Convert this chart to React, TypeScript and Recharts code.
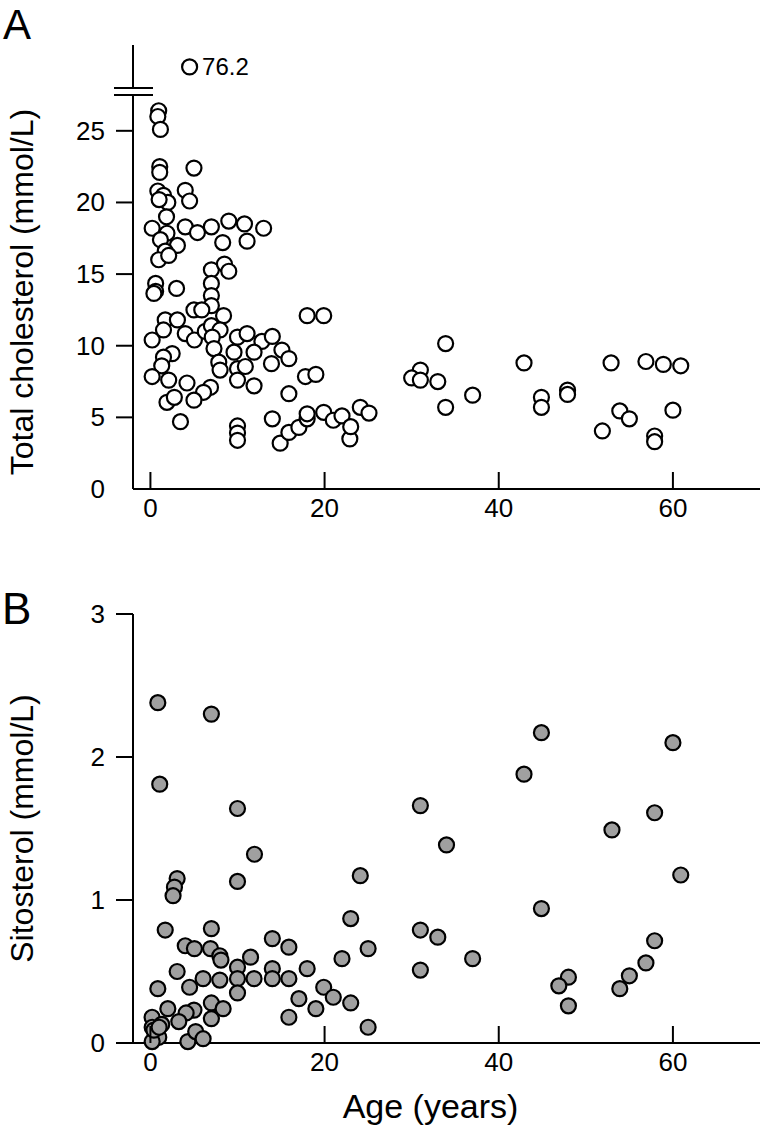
import { ScatterChart, Scatter, XAxis, YAxis, LabelList } from "recharts";

// Panel A: total cholesterol by age
const cholAges = [
  0.95, 0.85, 1.15, 1.07, 1.07, 5.0, 0.85, 1.5, 4.0, 2.0, 4.5, 1.0, 1.85, 0.2, 1.9, 4.0, 5.4, 7.0, 9.0, 10.8,
  13.0, 8.3, 11.1, 1.15, 3.1, 1.7, 0.95, 7.0, 8.5, 9.0, 2.1, 0.6, 0.6, 0.4, 3.0, 7.0, 7.0, 7.0, 5.0, 5.9,
  8.4, 18.0, 19.9, 1.7, 3.1, 0.2, 1.5, 4.0, 5.05, 6.3, 7.0, 8.0, 7.1, 7.3, 10.0, 11.1, 12.8, 14.0, 9.6, 11.9,
  15.1, 15.9, 13.9, 2.5, 1.5, 1.3, 0.2, 2.1, 4.2, 7.85, 8.0, 10.0, 10.9, 10.0, 11.9, 6.9, 6.1, 5.0, 1.9, 2.75,
  3.45, 17.8, 19.0, 15.9, 14.0, 10.0, 10.0, 10.0, 14.9, 15.9, 17.05, 18.0, 18.0, 19.9, 21.0, 22.0, 22.9, 23.0, 24.1, 25.1,
  33.9, 31.0, 30.0, 31.0, 33.0, 37.0, 33.9, 42.9, 44.9, 44.9, 47.9, 47.9, 52.9, 56.9, 58.9, 60.9, 53.9, 55.0, 51.9, 60.0,
  57.9, 57.9,
];
const cholValues = [
  26.4, 26.0, 25.1, 22.5, 22.1, 22.4, 20.8, 20.5, 20.85, 20.0, 20.1, 20.2, 19.0, 18.2, 17.85, 18.3, 17.9, 18.3, 18.7, 18.5,
  18.2, 17.2, 17.3, 17.4, 17.0, 16.6, 16.0, 15.3, 15.7, 15.2, 16.3, 14.35, 13.8, 13.65, 14.0, 14.35, 13.5, 12.8, 12.5, 12.5,
  12.1, 12.1, 12.1, 11.8, 11.8, 10.4, 11.1, 10.85, 10.4, 11.0, 11.4, 11.1, 10.6, 9.8, 10.6, 10.85, 10.3, 10.65, 9.55, 9.55,
  9.7, 9.1, 8.75, 9.45, 9.2, 8.6, 7.85, 7.6, 7.4, 8.85, 8.3, 8.4, 8.55, 7.6, 7.2, 7.1, 6.75, 6.2, 6.05, 6.4,
  4.7, 7.85, 8.0, 6.65, 4.9, 4.4, 3.9, 3.4, 3.2, 3.95, 4.3, 4.9, 5.25, 5.35, 4.8, 5.1, 3.5, 4.35, 5.7, 5.3,
  10.15, 8.3, 7.75, 7.6, 7.5, 6.55, 5.7, 8.8, 6.4, 5.7, 6.9, 6.6, 8.8, 8.9, 8.7, 8.6, 5.45, 4.9, 4.05, 5.5,
  3.7, 3.3,
];
// value plotted above the axis break
const cholOutlierAge = 4.5;
const cholOutlierValue = 76.2;

// Panel B: sitosterol by age
const sitoAges = [
  0.85, 7.0, 1.07, 10.0, 11.95, 3.07, 2.76, 2.6, 10.0, 24.1, 23.0, 1.7, 7.0, 4.0, 5.05, 6.9, 7.97, 8.1, 11.5, 14.0,
  15.9, 25.0, 22.0, 10.0, 10.0, 10.0, 14.0, 14.0, 11.9, 15.9, 18.0, 7.97, 6.05, 4.5, 3.07, 0.85, 19.9, 21.0, 23.0, 17.05,
  19.0, 15.9, 25.0, 7.0, 7.0, 8.35, 5.0, 4.1, 3.26, 2.0, 0.19, 1.3, 0.96, 0.2, 0.2, 4.3, 5.2, 6.05, 0.4, 1.0,
  31.0, 34.0, 31.0, 33.0, 37.0, 31.0, 42.9, 44.9, 44.9, 53.0, 57.9, 60.0, 60.9, 57.9, 56.9, 55.0, 53.9, 48.0, 46.9, 48.0,
];
const sitoValues = [
  2.38, 2.3, 1.81, 1.64, 1.32, 1.15, 1.09, 1.03, 1.13, 1.17, 0.87, 0.79, 0.8, 0.68, 0.66, 0.66, 0.61, 0.58, 0.6, 0.73,
  0.67, 0.66, 0.59, 0.53, 0.45, 0.35, 0.52, 0.45, 0.45, 0.45, 0.52, 0.44, 0.45, 0.39, 0.5, 0.38, 0.39, 0.32, 0.28, 0.31,
  0.24, 0.18, 0.11, 0.28, 0.17, 0.24, 0.23, 0.21, 0.15, 0.24, 0.18, 0.13, 0.04, 0.11, 0.01, 0.01, 0.08, 0.03, 0.09, 0.11,
  1.66, 1.385, 0.79, 0.74, 0.59, 0.51, 1.88, 2.17, 0.94, 1.49, 1.61, 2.1, 1.175, 0.715, 0.56, 0.47, 0.38, 0.46, 0.4, 0.26,
];

const ageTicks = [0, 20, 40, 60];
const cholTicks = [0, 5, 10, 15, 20, 25];
const sitoTicks = [0, 1, 2, 3];

const cholData = cholAges.map((age, i) => ({ age, value: cholValues[i] }));
const outlierData = [{ age: cholOutlierAge, value: cholOutlierValue }];
const sitoData = sitoAges.map((age, i) => ({ age, value: sitoValues[i] }));

const FONT = "'Liberation Sans', Arial, sans-serif";
const AXIS = { stroke: "#000", strokeWidth: 2 };

const OpenDot = (p: any) => <circle cx={p.cx} cy={p.cy} r={7.5} fill="#fff" stroke="#000" strokeWidth={2.2} />;
const GrayDot = (p: any) => <circle cx={p.cx} cy={p.cy} r={7.5} fill="#a0a0a0" stroke="#000" strokeWidth={2.2} />;

// x ticks point up into the plot, labels below the axis
const AgeTick = (p: any) => (
  <g>
    <line x1={p.x} x2={p.x} y1={p.y} y2={p.y - 17} stroke="#000" strokeWidth={2} />
    <text x={p.x} y={p.y + 28} textAnchor="middle" fontSize={26} fill="#000" fontFamily={FONT}>
      {p.payload.value}
    </text>
  </g>
);

const valueTick = (skipLine?: number) => (p: any) => (
  <g>
    {p.payload.value !== skipLine && (
      <line x1={p.x - 17} x2={p.x} y1={p.y} y2={p.y} stroke="#000" strokeWidth={2} />
    )}
    <text x={p.x - 28} y={p.y + 9} textAnchor="end" fontSize={26} fill="#000" fontFamily={FONT}>
      {p.payload.value}
    </text>
  </g>
);

export default function App() {
  return (
    <div style={{ position: "absolute", left: 0, top: 0, width: 762, height: 1129, background: "#fff", fontFamily: FONT }}>
      {/* A: main range 0-27.5 */}
      <div style={{ position: "absolute", left: 0, top: 0 }}>
        <ScatterChart width={762} height={540} margin={{ top: 95, right: 2, bottom: 0, left: 0 }}>
          <XAxis
            type="number"
            dataKey="age"
            domain={[-2, 70]}
            ticks={ageTicks}
            height={51}
            tickSize={0}
            tickMargin={0}
            tickLine={false}
            tick={AgeTick}
            axisLine={AXIS}
            allowDataOverflow
          />
          <YAxis
            type="number"
            dataKey="value"
            domain={[0, 27.5]}
            ticks={cholTicks}
            width={133}
            tickSize={0}
            tickMargin={0}
            tickLine={false}
            tick={valueTick(0)}
            axisLine={AXIS}
            allowDataOverflow
            label={{
              value: "Total cholesterol (mmol/L)",
              angle: -90,
              position: "insideLeft",
              offset: 22,
              fontSize: 32,
              fill: "#000",
              style: { textAnchor: "middle" },
            }}
          />
          <Scatter data={cholData} shape={OpenDot} isAnimationActive={false} />
        </ScatterChart>
      </div>

      {/* A: segment above the axis break */}
      <div style={{ position: "absolute", left: 0, top: 0 }}>
        <ScatterChart width={762} height={88} margin={{ top: 45, right: 2, bottom: 0, left: 0 }}>
          <XAxis type="number" dataKey="age" domain={[-2, 70]} hide />
          <YAxis
            type="number"
            dataKey="value"
            domain={[73.5, 79]}
            width={133}
            tick={false}
            tickLine={false}
            axisLine={AXIS}
          />
          <Scatter data={outlierData} shape={OpenDot} isAnimationActive={false}>
            <LabelList dataKey="value" position="right" offset={8} fontSize={24} fill="#000" />
          </Scatter>
        </ScatterChart>
      </div>

      {/* B */}
      <div style={{ position: "absolute", left: 0, top: 560 }}>
        <ScatterChart width={762} height={569} margin={{ top: 54, right: 2, bottom: 0, left: 0 }}>
          <XAxis
            type="number"
            dataKey="age"
            domain={[-2, 70]}
            ticks={ageTicks}
            height={86}
            tickSize={0}
            tickMargin={0}
            tickLine={false}
            tick={AgeTick}
            axisLine={AXIS}
            label={{ value: "Age (years)", position: "insideBottom", offset: 11, fontSize: 34, fill: "#000", dx: -16 }}
          />
          <YAxis
            type="number"
            dataKey="value"
            domain={[0, 3]}
            ticks={sitoTicks}
            width={133}
            tickSize={0}
            tickMargin={0}
            tickLine={false}
            tick={valueTick()}
            axisLine={AXIS}
            label={{
              value: "Sitosterol (mmol/L)",
              angle: -90,
              position: "insideLeft",
              offset: 22,
              fontSize: 32,
              fill: "#000",
              style: { textAnchor: "middle" },
            }}
          />
          <Scatter data={sitoData} shape={GrayDot} isAnimationActive={false} />
        </ScatterChart>
      </div>

      {/* axis break marks and panel letters */}
      <svg width={762} height={1129} style={{ position: "absolute", left: 0, top: 0, pointerEvents: "none" }}>
        <line x1={114} x2={153} y1={88} y2={88} stroke="#000" strokeWidth={2} />
        <line x1={114} x2={153} y1={95} y2={95} stroke="#000" strokeWidth={2} />
        <text x={3} y={39} fontSize={42} fill="#000" fontFamily={FONT}>A</text>
        <text x={2} y={624} fontSize={44} fill="#000" fontFamily={FONT}>B</text>
      </svg>
    </div>
  );
}
